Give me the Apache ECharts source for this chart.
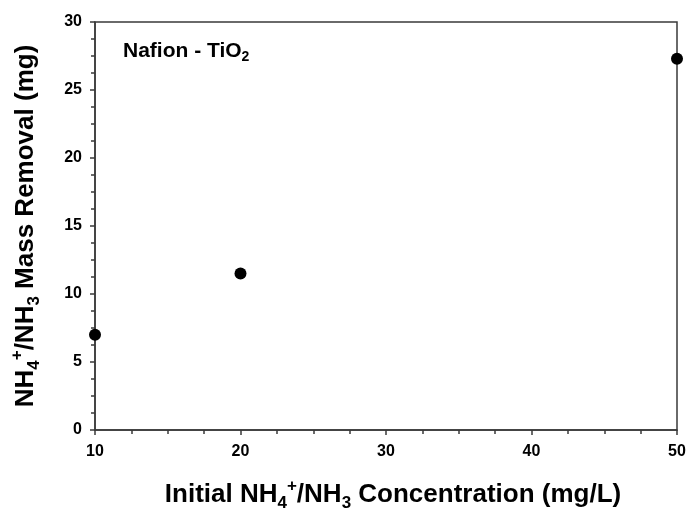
<!DOCTYPE html>
<html>
<head>
<meta charset="utf-8">
<script src="https://cdn.jsdelivr.net/npm/echarts@6/dist/echarts.min.js"></script>
<style>html,body{margin:0;padding:0;background:#fff}#c{width:686px;height:511px}</style>
</head>
<body>
<div id="c"></div>
<script>
const concentration = [10, 20, 50];
const massRemoval = [7.0, 11.5, 27.3];
const xTicks = {min: 10, max: 50, interval: 10};
const yTicks = {min: 0, max: 30, interval: 5};

const chart = echarts.init(document.getElementById('c'));
const FONT = 'Liberation Sans, Arial, sans-serif';
const richTitle = {
  b: {fontSize: 26, fontWeight: 'bold', fontFamily: FONT, color: '#000', lineHeight: 34, verticalAlign: 'middle'},
  sub: {fontSize: 17, fontWeight: 'bold', fontFamily: FONT, color: '#000', lineHeight: 17, verticalAlign: 'bottom'},
  sup: {fontSize: 17, fontWeight: 'bold', fontFamily: FONT, color: '#000', lineHeight: 17, verticalAlign: 'top'}
};
const axisColor = '#3a3a3a';
chart.setOption({
  animation: false,
  grid: {left: 95, right: 9, top: 22, bottom: 81, show: true, borderColor: axisColor, borderWidth: 1.5,
         containLabel: false, outerBoundsMode: 'none'},
  xAxis: {
    type: 'value', min: xTicks.min, max: xTicks.max, interval: xTicks.interval,
    name: '{b|Initial NH}{sub|4}{sup|+}{b|/NH}{sub|3}{b| Concentration (mg/L)}',
    nameLocation: 'middle', nameGap: 48,
    nameTextStyle: {rich: richTitle, padding: [0, 0, 0, 14]},
    axisLine: {lineStyle: {color: axisColor, width: 1.5}},
    axisTick: {show: true, inside: false, length: 5, lineStyle: {color: axisColor, width: 1.5}},
    minorTick: {show: true, splitNumber: 4, length: 4, lineStyle: {color: axisColor, width: 1.5}},
    splitLine: {show: false},
    axisLabel: {fontSize: 16, fontWeight: 'bold', fontFamily: FONT, color: '#000', margin: 14}
  },
  yAxis: {
    type: 'value', min: yTicks.min, max: yTicks.max, interval: yTicks.interval,
    name: '{b|NH}{sub|4}{sup|+}{b|/NH}{sub|3}{b| Mass Removal (mg)}',
    nameLocation: 'middle', nameGap: 52, nameRotate: 90,
    nameTextStyle: {rich: richTitle},
    axisLine: {lineStyle: {color: axisColor, width: 1.5}},
    axisTick: {show: true, inside: false, length: 5, lineStyle: {color: axisColor, width: 1.5}},
    minorTick: {show: true, splitNumber: 4, length: 4, lineStyle: {color: axisColor, width: 1.5}},
    splitLine: {show: false},
    axisLabel: {fontSize: 16, fontWeight: 'bold', fontFamily: FONT, color: '#000', margin: 13}
  },
  graphic: [{
    type: 'text', left: 123, top: 41,
    style: {
      text: '{b|Nafion - TiO}{sub|2}',
      rich: {
        b: {fontSize: 21, fontWeight: 'bold', fontFamily: FONT, fill: '#000', lineHeight: 26, verticalAlign: 'middle'},
        sub: {fontSize: 14, fontWeight: 'bold', fontFamily: FONT, fill: '#000', lineHeight: 14, verticalAlign: 'bottom'}
      }
    }
  }],
  series: [{
    type: 'scatter', clip: false,
    data: concentration.map((x, i) => [x, massRemoval[i]]),
    symbol: 'circle', symbolSize: 12,
    itemStyle: {color: '#000', opacity: 1}
  }]
});
</script>
</body>
</html>
